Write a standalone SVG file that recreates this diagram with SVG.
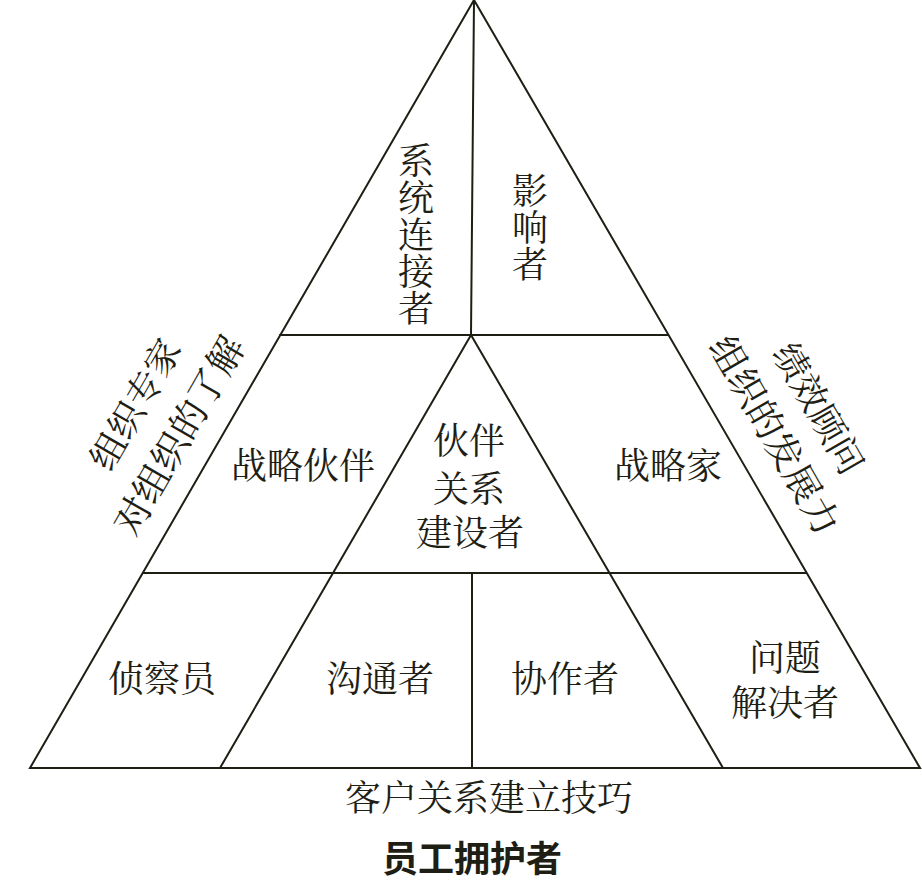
<svg xmlns="http://www.w3.org/2000/svg" width="922" height="896" viewBox="0 0 922 896">
<style>
.ln{stroke:#1e1e14;stroke-width:2;fill:none;stroke-linecap:round}
.t{font-family:"Noto Serif CJK SC","Noto Sans CJK SC",serif;font-size:36px;fill:#1e1e14;text-anchor:middle;dominant-baseline:central}
.b{font-family:"Noto Sans CJK SC",sans-serif;font-size:36px;font-weight:bold;fill:#1e1e14;text-anchor:middle;dominant-baseline:central}
</style>
<rect width="922" height="896" fill="#ffffff"/>
<g id="connectors">
<polygon class="ln" points="474,0 30,768 920,768"/>
<line class="ln" x1="474" y1="0" x2="471" y2="335"/>
<line class="ln" x1="280" y1="335" x2="668" y2="335"/>
<line class="ln" x1="143" y1="573" x2="806" y2="573"/>
<line class="ln" x1="471" y1="335" x2="220" y2="768"/>
<line class="ln" x1="471" y1="335" x2="723" y2="768"/>
<line class="ln" x1="472" y1="573" x2="472" y2="768"/>
</g>
<g id="n-xitong"><text class="t"><tspan x="416" y="158">系</tspan><tspan x="416" y="195">统</tspan><tspan x="416" y="232">连</tspan><tspan x="416" y="269">接</tspan><tspan x="416" y="306">者</tspan></text></g>
<g id="n-yingxiang"><text class="t"><tspan x="530" y="188">影</tspan><tspan x="530" y="225">响</tspan><tspan x="530" y="262">者</tspan></text></g>
<g id="n-zhanluehuoban"><text class="t" x="303" y="463">战略伙伴</text></g>
<g id="n-huoban"><text class="t"><tspan x="469" y="438">伙伴</tspan><tspan x="469" y="486">关系</tspan><tspan x="470" y="530">建设者</tspan></text></g>
<g id="n-zhanluejia"><text class="t" x="668" y="463">战略家</text></g>
<g id="n-zhenchayuan"><text class="t" x="162" y="676">侦察员</text></g>
<g id="n-goutong"><text class="t" x="380" y="676">沟通者</text></g>
<g id="n-xiezuo"><text class="t" x="565" y="676">协作者</text></g>
<g id="n-wenti"><text class="t"><tspan x="785" y="655">问题</tspan><tspan x="785" y="700">解决者</tspan></text></g>
<g id="n-left"><text class="t" transform="translate(133,403) rotate(-60)" x="0" y="0">组织专家</text><text class="t" transform="translate(177,434) rotate(-60)" x="0" y="0" style="font-size:37px">对组织的了解</text></g>
<g id="n-right"><text class="t" transform="translate(821,407) rotate(60)" x="0" y="0">绩效顾问</text><text class="t" transform="translate(777,434) rotate(60)" x="0" y="0" style="font-size:37px">组织的发展力</text></g>
<g id="n-kehu"><text class="t" x="489" y="795">客户关系建立技巧</text></g>
<g id="n-yuangong"><text class="b" x="472" y="856">员工拥护者</text></g>
</svg>
